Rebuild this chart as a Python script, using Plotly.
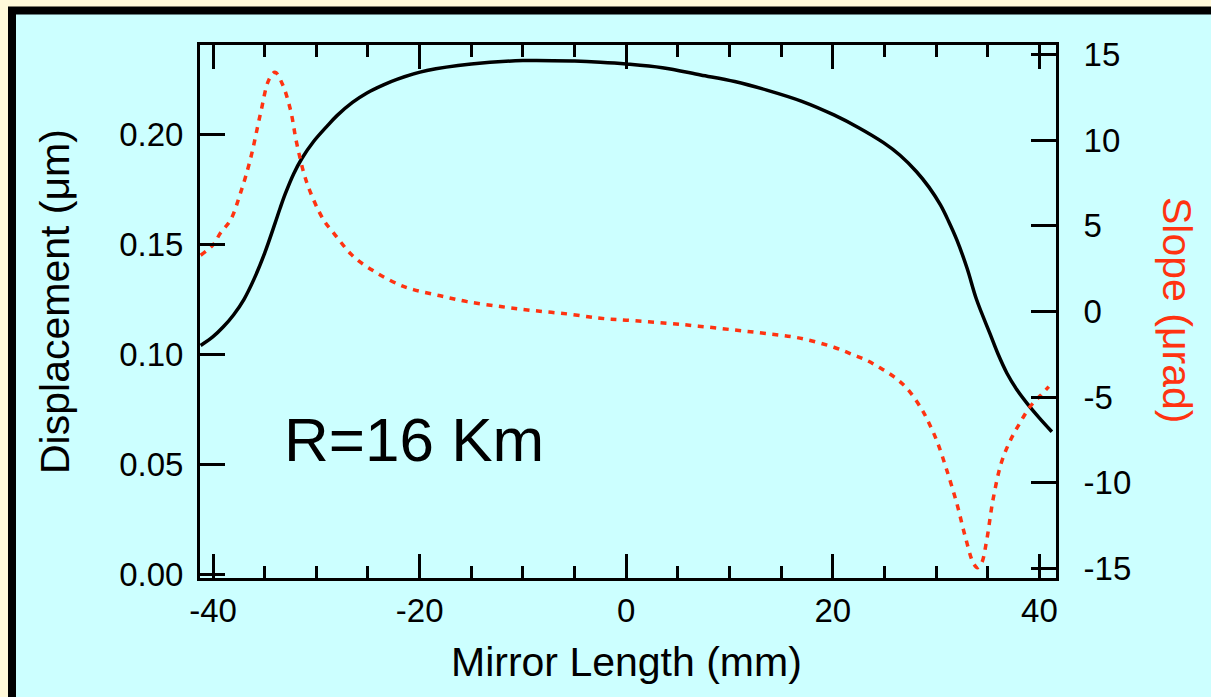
import plotly.graph_objects as go

# Mirror surface profile: displacement (um) and slope (urad) along the mirror (mm)
disp_x = [-41.2, -40, -39, -38, -37, -36, -35, -34, -33.5, -33, -32.2, -31.4, -30.3,
          -29, -28, -26.5, -25.1, -23.5, -22.2, -19.3, -15, -10, -5, -2.5, 0, 3.5, 7.2,
          10.5, 13.6, 17, 20.1, 22.5, 24.9, 26.5, 28.1, 29.3, 30.4, 31.2, 32.0, 33.0,
          33.9, 35.2, 36.0, 36.85, 37.8, 38.8, 40.0, 41.2]
disp_y = [0.104, 0.108, 0.1125, 0.118, 0.125, 0.1345, 0.146, 0.1595, 0.1665, 0.173,
          0.182, 0.189, 0.1965, 0.2035, 0.2085, 0.2145, 0.2188, 0.2225, 0.2250, 0.2290,
          0.2320, 0.2335, 0.2333, 0.2328, 0.2320, 0.2303, 0.2270, 0.2240, 0.2201,
          0.2150, 0.2088, 0.2030, 0.1962, 0.1905, 0.1830, 0.1760, 0.1680, 0.1605,
          0.1520, 0.1390, 0.1250, 0.1095, 0.1000, 0.0914, 0.0840, 0.0777, 0.0710,
          0.0648]

slope_x = [-41.2, -40, -39.3, -38.3, -37.4, -36.4, -35.4, -34.6, -34.0, -33.3, -32.5,
           -31.9, -30.9, -29.3, -28.3, -26.4, -24.1, -21.9, -20.6, -18, -15.4, -12, -9,
           -5.5, -2.5, 0, 3.94, 7, 10.4, 13.5, 16.8, 20.1, 22.0, 23.3, 24.6, 25.9, 27.2,
           28.6, 29.3, 30.1, 31.0, 32.0, 32.8, 33.6, 34.0, 34.4, 34.9, 35.5, 36.3, 37.2,
           38.1, 39.1, 40.1, 40.9]
slope_y = [3.29, 3.89, 4.57, 5.35, 6.81, 8.85, 11.57, 13.52, 13.97, 13.3, 11.77, 9.83,
           7.49, 5.35, 4.57, 3.21, 2.24, 1.55, 1.28, 0.92, 0.58, 0.28, 0.06, -0.15, -0.39,
           -0.5, -0.68, -0.85, -1.07, -1.28, -1.55, -2.08, -2.53, -2.85, -3.3, -3.8,
           -4.5, -5.7, -6.5, -7.6, -9.2, -11.2, -13.1, -14.68, -14.95, -14.68, -13.32,
           -10.99, -8.84, -7.49, -6.51, -5.54, -4.9, -4.38]

x_ticks = [-40, -20, 0, 20, 40]
x_labels = ["-40", "-20", "0", "20", "40"]
disp_ticks = [0.00, 0.05, 0.10, 0.15, 0.20]
disp_labels = ["0.00", "0.05", "0.10", "0.15", "0.20"]
slope_ticks = [-15, -10, -5, 0, 5, 10, 15]
slope_labels = ["-15", "-10", "-5", "0", "5", "10", "15"]

FONT = "Liberation Sans, Arial, Helvetica, sans-serif"
CYAN = "#CCFFFF"
CREAM = "#FFF9D9"
RED = "#FF3311"

# plot-area placement in pixels
W, H = 1211, 697
L, R, T, B = 200, 1056, 45, 578


def px(x):
    return (x - L) / (R - L)


def py(y):
    return (B - y) / (B - T)


fig = go.Figure()
fig.add_trace(go.Scatter(x=disp_x, y=disp_y, mode="lines", yaxis="y",
                         line=dict(color="black", width=3.5, shape="spline", smoothing=1.0),
                         showlegend=False, hoverinfo="skip"))
fig.add_trace(go.Scatter(x=slope_x, y=slope_y, mode="lines", yaxis="y2",
                         line=dict(color=RED, width=3.5, dash="6px,6.5px",
                                   shape="spline", smoothing=1.0),
                         showlegend=False, hoverinfo="skip"))

axis_common = dict(showgrid=False, zeroline=False, showline=True, linecolor="black",
                   linewidth=3, ticks="inside", tickcolor="black", tickwidth=2.5,
                   tickfont=dict(family=FONT, size=33, color="black"))

fig.update_layout(
    width=W, height=H,
    margin=dict(l=L, r=W - R, t=T, b=H - B, pad=0),
    paper_bgcolor=CREAM,
    plot_bgcolor="rgba(0,0,0,0)",
    font=dict(family=FONT, color="black"),
    xaxis=dict(range=[-41.26, 41.6], tickvals=x_ticks, ticktext=x_labels, ticklen=24,
               mirror="ticks", ticklabelstandoff=1,
               minor=dict(dtick=5, tick0=0, ticks="inside", ticklen=12,
                          tickwidth=2.5, tickcolor="black"),
               **axis_common),
    yaxis=dict(range=[-0.0017, 0.2406], tickvals=disp_ticks, ticktext=disp_labels,
               ticklen=25, ticklabelstandoff=7, **axis_common),
    yaxis2=dict(range=[-15.55, 15.56], tickvals=slope_ticks, ticktext=slope_labels,
                overlaying="y", side="right", ticklen=25, ticklabelstandoff=18,
                **axis_common),
    shapes=[dict(type="rect", xref="paper", yref="paper", layer="below",
                 x0=px(12), x1=px(1230), y0=py(712), y1=py(10.5),
                 line=dict(color="black", width=8), fillcolor=CYAN)],
    annotations=[
        dict(text="R=16 Km", xref="paper", yref="paper", x=px(282), y=py(439),
             xanchor="left", yanchor="middle", showarrow=False,
             font=dict(family=FONT, size=62, color="black")),
        dict(text="Mirror Length (mm)", xref="paper", yref="paper", x=px(626), y=py(662),
             xanchor="center", yanchor="middle", showarrow=False,
             font=dict(family=FONT, size=41, color="black")),
        dict(text="Displacement (μm)", xref="paper", yref="paper", x=px(55), y=py(302),
             xanchor="center", yanchor="middle", textangle=-90, showarrow=False,
             font=dict(family=FONT, size=41, color="black")),
        dict(text="Slope (μrad)", xref="paper", yref="paper", x=px(1177), y=py(310),
             xanchor="center", yanchor="middle", textangle=90, showarrow=False,
             font=dict(family=FONT, size=41, color=RED)),
    ],
)

fig.write_html("out.html")
